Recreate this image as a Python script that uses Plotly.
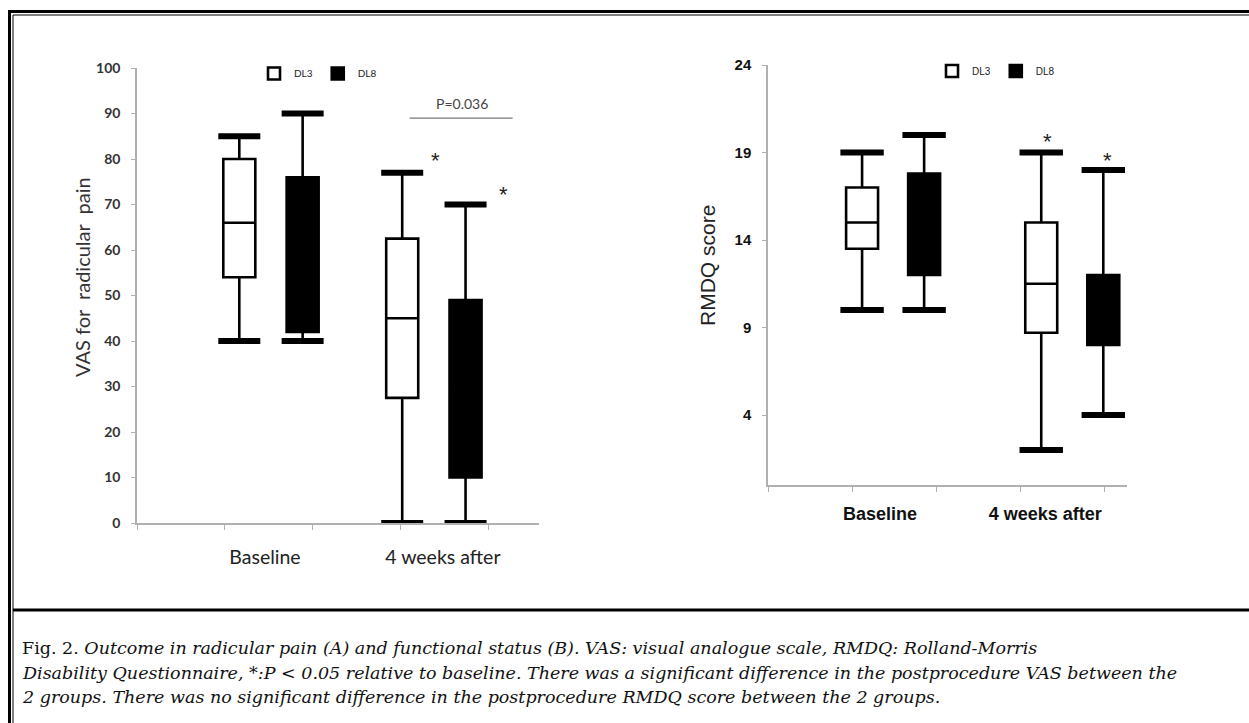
import plotly.graph_objects as go

W, H = 1249, 723

# ---------------- data ----------------
groups = ["DL3", "DL8"]
timepoints = ["Baseline", "4 weeks after"]

# Panel A: VAS for radicular pain   (values for [Baseline, 4 weeks after])
vas_dl3_upper = [85, 77]
vas_dl3_q3 = [80, 62.5]
vas_dl3_median = [66, 45]
vas_dl3_q1 = [54, 27.5]
vas_dl3_lower = [40, 0]

vas_dl8_upper = [90, 70]
vas_dl8_q3 = [76, 49]
vas_dl8_median = [58, 30]
vas_dl8_q1 = [42, 10]
vas_dl8_lower = [40, 0]

# Panel B: RMDQ score
rmdq_dl3_upper = [19, 19]
rmdq_dl3_q3 = [17, 15]
rmdq_dl3_median = [15, 11.5]
rmdq_dl3_q1 = [13.5, 8.7]
rmdq_dl3_lower = [10, 2]

rmdq_dl8_upper = [20, 18]
rmdq_dl8_q3 = [17.8, 12]
rmdq_dl8_median = [15, 10]
rmdq_dl8_q1 = [12, 8]
rmdq_dl8_lower = [10, 4]

vas_ticks = [0, 10, 20, 30, 40, 50, 60, 70, 80, 90, 100]
rmdq_ticks = [4, 9, 14, 19, 24]

# significance vs baseline (star) per timepoint
sig_vs_baseline = [False, True]
p_between_text = "P=0.036"

caption_lines = [
    "Fig. 2. <i>Outcome in radicular pain (A) and functional status (B). VAS: visual analogue scale, RMDQ: Rolland-Morris</i>",
    "<i>Disability Questionnaire, *:P &lt; 0.05 relative to baseline. There was a significant difference in the postprocedure VAS between the</i>",
    "<i>2 groups. There was no significant difference in the postprocedure RMDQ score between the 2 groups.</i>",
]

# ---------------- layout helpers ----------------
def px(x):
    return x / W

def py(y):
    return 1 - y / H

panels = [
    dict(
        xa="x", ya="y", legend="legend",
        data={
            "DL3": (vas_dl3_q1, vas_dl3_median, vas_dl3_q3, vas_dl3_lower, vas_dl3_upper),
            "DL8": (vas_dl8_q1, vas_dl8_median, vas_dl8_q3, vas_dl8_lower, vas_dl8_upper),
        },
        centers=[1.523, 3.375], offsets={"DL3": -0.36, "DL8": 0.36},
        box_w=0.364, cap_size=30,
        star_shift={"DL3": (33, 14), "DL8": (38, 12)},
    ),
    dict(
        xa="x2", ya="y2", legend="legend2",
        data={
            "DL3": (rmdq_dl3_q1, rmdq_dl3_median, rmdq_dl3_q3, rmdq_dl3_lower, rmdq_dl3_upper),
            "DL8": (rmdq_dl8_q1, rmdq_dl8_median, rmdq_dl8_q3, rmdq_dl8_lower, rmdq_dl8_upper),
        },
        centers=[1.488, 3.619], offsets={"DL3": -0.369, "DL8": 0.369},
        box_w=0.38, cap_size=31,
        star_shift={"DL3": (6, 13), "DL8": (4, 12)},
    ),
]

fills = {"DL3": "white", "DL8": "black"}

fig = go.Figure()
annotations = []

for p in panels:
    for g in groups:
        q1, med, q3, lo, hi = p["data"][g]
        xs = [c + p["offsets"][g] for c in p["centers"]]
        fig.add_trace(go.Box(
            x=xs, q1=q1, median=med, q3=q3, lowerfence=lo, upperfence=hi,
            name=g, width=p["box_w"], whiskerwidth=0.8,
            fillcolor=fills[g], line=dict(color="black", width=2.6),
            boxpoints=False, xaxis=p["xa"], yaxis=p["ya"],
            legend=p["legend"], showlegend=True,
        ))
        # thick whisker caps
        fig.add_trace(go.Scatter(
            x=xs + xs, y=list(lo) + list(hi), mode="markers",
            marker=dict(symbol="line-ew", size=p["cap_size"], color="black",
                        line=dict(color="black", width=6)),
            xaxis=p["xa"], yaxis=p["ya"], showlegend=False, hoverinfo="skip",
        ))
        # stars
        for i, s in enumerate(sig_vs_baseline):
            if s:
                dx, dy = p["star_shift"][g]
                annotations.append(dict(
                    x=xs[i], y=hi[i], xref=p["xa"], yref=p["ya"],
                    text="*", showarrow=False, xshift=dx, yshift=dy - 2,
                    xanchor="center", yanchor="middle",
                    font=dict(family="Liberation Sans", size=22, color="#222"),
                ))

# axis titles, P value
annotations += [
    dict(x=px(82), y=py(277), xref="paper", yref="paper", text="VAS for\u00a0\u00a0radicular\u00a0\u00a0pain",
         textangle=-90, showarrow=False, xanchor="center", yanchor="middle",
         font=dict(family="Lato", size=20, color="#333")),
    dict(x=px(707), y=py(266), xref="paper", yref="paper", text="RMDQ score",
         textangle=-90, showarrow=False, xanchor="center", yanchor="middle",
         font=dict(family="Liberation Sans", size=21, color="#222")),
    dict(x=3.70, y=92.3, xref="x", yref="y", text=p_between_text, showarrow=False,
         xanchor="center", yanchor="middle",
         font=dict(family="Lato", size=14, color="#444")),
]

cap_y = [648, 673, 697]
for t, yy in zip(caption_lines, cap_y):
    annotations.append(dict(
        x=px(20), y=py(yy), xref="paper", yref="paper", xanchor="left", yanchor="middle",
        text=t, showarrow=False, align="left",
        font=dict(family="DejaVu Serif", size=17.5, color="#111"),
    ))

shapes = [
    # P-value bracket
    dict(type="line", xref="x", yref="y", x0=3.10, x1=4.27, y0=89, y1=89,
         line=dict(color="#777", width=1.2)),
    # outer double border
    dict(type="line", xref="paper", yref="paper", x0=px(8), x1=px(1260), y0=py(11.5), y1=py(11.5),
         line=dict(color="black", width=3)),
    dict(type="line", xref="paper", yref="paper", x0=px(13), x1=px(1260), y0=py(15), y1=py(15),
         line=dict(color="black", width=1)),
    dict(type="line", xref="paper", yref="paper", x0=px(9.5), x1=px(9.5), y0=py(10), y1=py(730),
         line=dict(color="black", width=3)),
    dict(type="line", xref="paper", yref="paper", x0=px(13), x1=px(13), y0=py(15), y1=py(730),
         line=dict(color="black", width=1)),
    # caption separator
    dict(type="line", xref="paper", yref="paper", x0=px(13), x1=px(1260), y0=py(610), y1=py(610),
         line=dict(color="black", width=3)),
]

axis_grey = "#b0b0b0"

fig.update_layout(
    width=W, height=H,
    autosize=False,
    margin=dict(l=0, r=0, t=0, b=0, pad=0),
    paper_bgcolor="white", plot_bgcolor="white",
    showlegend=True,
    annotations=annotations,
    shapes=shapes,
    xaxis=dict(
        domain=[px(137), px(539)], range=[0, 4.57], anchor="y",
        showline=True, linecolor=axis_grey, linewidth=1.5,
        tickvals=[1.455, 3.477], ticktext=timepoints, ticks="",
        ticklabelstandoff=16,
        tickfont=dict(family="Lato", size=19.5, color="#222"),
        minor=dict(tickmode="array", tickvals=[0, 1, 2, 3, 4], ticks="outside",
                   ticklen=5, tickcolor=axis_grey, tickwidth=1.2),
        showgrid=False, zeroline=False, automargin=False,
    ),
    yaxis=dict(
        domain=[py(523), py(68)], range=[0, 100], anchor="x",
        showline=True, linecolor=axis_grey, linewidth=1.5,
        tickvals=vas_ticks, ticks="outside", ticklen=4, tickcolor=axis_grey,
        ticklabelstandoff=8,
        tickfont=dict(family="Lato", size=14, color="#333", weight="bold"),
        showgrid=False, zeroline=False, automargin=False,
    ),
    xaxis2=dict(
        domain=[px(768), px(1127)], range=[0, 4.27], anchor="y2",
        showline=True, linecolor=axis_grey, linewidth=1.5,
        tickvals=[1.333, 3.298], ticktext=timepoints, ticks="",
        ticklabelstandoff=12,
        tickfont=dict(family="Liberation Sans", size=18, color="#111", weight="bold"),
        minor=dict(tickmode="array", tickvals=[0, 1, 2, 3, 4], ticks="outside",
                   ticklen=5, tickcolor=axis_grey, tickwidth=1.2),
        showgrid=False, zeroline=False, automargin=False,
    ),
    yaxis2=dict(
        domain=[py(485), py(65)], range=[0, 24], anchor="x2",
        showline=True, linecolor=axis_grey, linewidth=1.5,
        tickvals=rmdq_ticks, ticks="outside", ticklen=4, tickcolor=axis_grey,
        ticklabelstandoff=8,
        tickfont=dict(family="Liberation Sans", size=15, color="#111", weight="bold"),
        showgrid=False, zeroline=False, automargin=False,
    ),
    legend=dict(orientation="h", x=px(254), y=py(73.5), xanchor="left", yanchor="middle",
                font=dict(family="Lato", size=10, color="#222"), bgcolor="rgba(0,0,0,0)",
                itemwidth=30),
    legend2=dict(orientation="h", x=px(932), y=py(71), xanchor="left", yanchor="middle",
                 font=dict(family="Liberation Sans", size=10, color="#222"), bgcolor="rgba(0,0,0,0)",
                 itemwidth=30),
)

fig.write_html(
    "out.html",
    config={"responsive": False, "displayModeBar": False},
    post_script="document.body.style.margin='0';document.body.style.padding='0';document.body.style.overflow='hidden';",
)
